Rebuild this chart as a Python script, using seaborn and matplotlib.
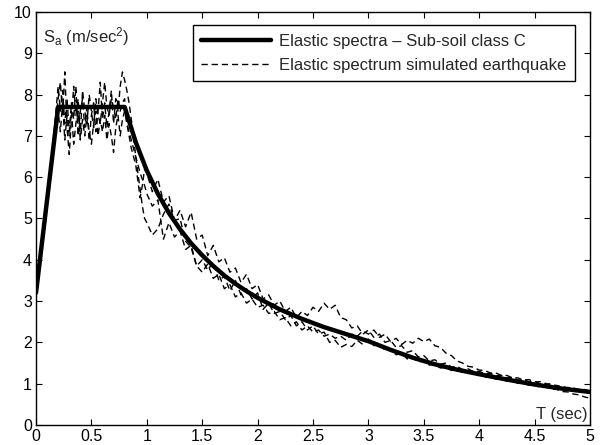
import numpy as np
import pandas as pd
import matplotlib
matplotlib.use("Agg")
import matplotlib.pyplot as plt
import seaborn as sns
from matplotlib.lines import Line2D

# Design (elastic) spectrum, sub-soil class C
T_design = [0.0, 0.2, 0.8, 0.9, 1.0, 1.1, 1.2, 1.3, 1.4, 1.5, 1.6, 1.7, 1.8, 1.9,
            2.0, 2.2, 2.4, 2.6, 2.8, 3.0, 3.2, 3.4, 3.6, 3.8, 4.0, 4.25, 4.5, 4.75, 5.0]
Sa_design = [3.2, 7.7, 7.7, 6.85, 6.16, 5.6, 5.13, 4.74, 4.4, 4.11, 3.85, 3.62, 3.42, 3.24,
             3.08, 2.8, 2.57, 2.37, 2.2, 2.03, 1.82, 1.63, 1.47, 1.34, 1.23, 1.1, 0.98, 0.88, 0.8]

# Periods at which the simulated-record spectra are sampled
T_short = np.round(np.arange(0.0, 0.99, 0.02), 2)
T_long = np.round(np.arange(1.0, 5.001, 0.05), 2)
T_sim = np.concatenate([T_short, T_long])

sim_a = [3.15, 3.6, 4.15, 4.5, 5.05, 5.4, 5.95, 6.5, 7.0, 7.6,
         8.2, 7.6, 8.1, 7.3, 7.9, 7.1, 7.8, 7.4, 8.2, 7.0,
         7.6, 7.9, 7.2, 7.7, 6.9, 7.5, 7.8, 7.1, 7.6, 8.3,
         7.4, 7.8, 7.2, 7.6, 8.1, 7.3, 7.9, 7.6, 8.2, 8.55,
         8.35, 8.1, 7.8, 7.4, 7.0, 6.5, 6.1, 5.7, 5.3, 5.0,
         4.9, 4.6, 4.75, 5.1, 5.35, 4.95, 5.0, 4.45, 4.3, 3.85,
         4.0, 3.75, 3.95, 3.5, 3.6, 3.25, 3.5, 3.15, 3.3, 3.05,
         3.2, 2.8, 2.95, 2.7, 2.75, 2.55, 2.65, 2.4, 2.5, 2.3,
         2.4, 2.2, 2.25, 2.0, 2.05, 1.88, 1.95, 1.9, 2.05, 1.95,
         2.08, 1.92, 1.98, 1.8, 1.85, 1.7, 1.74, 1.6, 1.64, 1.52,
         1.56, 1.45, 1.47, 1.38, 1.4, 1.32, 1.34, 1.27, 1.29, 1.23,
         1.22, 1.16, 1.17, 1.11, 1.12, 1.06, 1.07, 1.01, 1.02, 0.96,
         0.97, 0.91, 0.92, 0.87, 0.86, 0.81, 0.8, 0.75, 0.73, 0.68,
         0.65]

sim_b = [3.25, 3.7, 4.05, 4.6, 4.95, 5.5, 5.85, 6.4, 6.9, 7.4,
         7.9, 8.3, 7.5, 8.55, 7.2, 6.55, 7.4, 8.2, 7.5, 7.9,
         7.0, 8.1, 7.6, 7.3, 8.0, 7.6, 7.2, 7.9, 7.5, 7.3,
         7.8, 8.3, 7.7, 7.5, 7.9, 7.7, 7.4, 7.9, 7.6, 7.8,
         7.9, 7.3, 7.0, 6.7, 6.5, 6.3, 5.9, 5.5, 5.8, 6.2,
         6.1, 5.65, 5.95, 5.4, 5.55, 4.95, 5.2, 4.8, 5.15, 4.5,
         4.6, 4.1, 4.35, 3.95, 4.05, 3.7, 3.8, 3.45, 3.65, 3.3,
         3.4, 3.05, 3.15, 2.9, 3.0, 2.75, 2.85, 2.6, 2.75, 2.65,
         2.85, 2.75, 2.95, 2.8, 2.9, 2.6, 2.55, 2.35, 2.4, 2.2,
         2.3, 2.12, 2.2, 2.0, 2.05, 1.88, 1.92, 1.76, 1.8, 1.65,
         1.68, 1.55, 1.58, 1.47, 1.5, 1.4, 1.42, 1.34, 1.36, 1.29,
         1.3, 1.24, 1.25, 1.19, 1.2, 1.14, 1.15, 1.09, 1.1, 1.05,
         1.06, 1.0, 1.01, 0.95, 0.96, 0.9, 0.91, 0.86, 0.86, 0.82,
         0.8]

sim_c = [3.1, 3.55, 4.2, 4.45, 5.1, 5.35, 6.0, 6.3, 6.85, 7.2,
         7.6, 7.1, 7.8, 6.9, 7.5, 7.0, 7.6, 6.8, 7.3, 7.6,
         6.9, 7.4, 7.0, 7.5, 7.1, 6.8, 7.3, 7.6, 7.0, 7.4,
         7.1, 7.5, 6.9, 7.3, 7.0, 6.6, 7.2, 7.5, 7.0, 7.4,
         7.6, 7.3, 7.1, 6.9, 6.7, 6.5, 6.3, 6.1, 5.95, 5.8,
         5.6, 5.3, 5.45, 4.5, 4.9, 4.55, 4.7, 4.25, 4.35, 3.85,
         3.7, 3.9, 3.55, 3.65, 3.3, 3.4, 3.1, 3.2, 2.95, 3.05,
         2.85, 2.9, 2.7, 2.75, 2.55, 2.6, 2.4, 2.5, 2.3, 2.4,
         2.25, 2.3, 2.15, 2.2, 2.1, 2.15, 2.05, 2.2, 2.15, 2.28,
         2.2, 2.3, 2.12, 2.2, 2.02, 2.1, 1.95, 2.05, 1.98, 2.1,
         2.02, 2.08, 1.92, 1.88, 1.74, 1.68, 1.55, 1.5, 1.42, 1.4,
         1.33, 1.32, 1.26, 1.26, 1.2, 1.2, 1.14, 1.14, 1.09, 1.1,
         1.04, 1.05, 0.99, 1.0, 0.94, 0.94, 0.89, 0.9, 0.85, 0.86,
         0.82]

x_ticks = [0, 0.5, 1, 1.5, 2, 2.5, 3, 3.5, 4, 4.5, 5]
x_tick_labels = ["0", "0.5", "1", "1.5", "2", "2.5", "3", "3.5", "4", "4.5", "5"]
y_ticks = list(range(0, 11))

DASH = (0, (4.5, 2.8))

sns.set_style("ticks")
plt.rcParams["font.family"] = ["Liberation Sans", "DejaVu Sans"]
plt.rcParams["mathtext.fontset"] = "custom"
plt.rcParams["mathtext.rm"] = "Liberation Sans"
plt.rcParams["mathtext.it"] = "Liberation Sans"

fig = plt.figure(figsize=(6.07, 4.45), dpi=100)
ax = fig.add_axes([36 / 607, 20 / 445, 554 / 607, 413 / 445])

sim_df = pd.DataFrame({
    "T": np.concatenate([T_sim, T_sim, T_sim]),
    "Sa": np.concatenate([sim_a, sim_b, sim_c]),
    "record": ["a"] * len(T_sim) + ["b"] * len(T_sim) + ["c"] * len(T_sim),
})
for rec, grp in sim_df.groupby("record"):
    sns.lineplot(data=grp, x="T", y="Sa", ax=ax, color="black", lw=1.0,
                 linestyle=DASH, sort=False, estimator=None)

design_df = pd.DataFrame({"T": T_design, "Sa": Sa_design})
sns.lineplot(data=design_df, x="T", y="Sa", ax=ax, color="black", lw=3.2,
             sort=False, estimator=None)

ax.set_xlim(0, 5)
ax.set_ylim(0, 10)
ax.set_xticks(x_ticks)
ax.set_xticklabels(x_tick_labels)
ax.set_yticks(y_ticks)
ax.set_xlabel("")
ax.set_ylabel("")
ax.tick_params(direction="in", length=4, width=0.8, top=True, right=True,
               labelsize=11.5, colors="black", pad=3)
for sp in ax.spines.values():
    sp.set_linewidth(1.0)
    sp.set_color("black")

ax.text(0.012, 0.968, "S$_{a}$ (m/sec$^{2}$)", transform=ax.transAxes,
        fontsize=12, ha="left", va="top")
ax.text(0.995, 0.008, "T (sec)", transform=ax.transAxes,
        fontsize=12, ha="right", va="bottom")

handles = [
    Line2D([], [], color="black", lw=3.2),
    Line2D([], [], color="black", lw=1.0, linestyle=DASH),
]
labels = ["Elastic spectra \u2013 Sub-soil class C",
          "Elastic spectrum simulated earthquake"]
leg = ax.legend(handles, labels, loc="upper right", bbox_to_anchor=(0.973, 0.968),
                fontsize=12, frameon=True, fancybox=False, framealpha=1,
                edgecolor="black", handlelength=4.2, borderpad=0.5,
                labelspacing=0.55, handletextpad=0.5, borderaxespad=0)
leg.get_frame().set_linewidth(1.0)

fig.savefig("out.png", dpi=100)
